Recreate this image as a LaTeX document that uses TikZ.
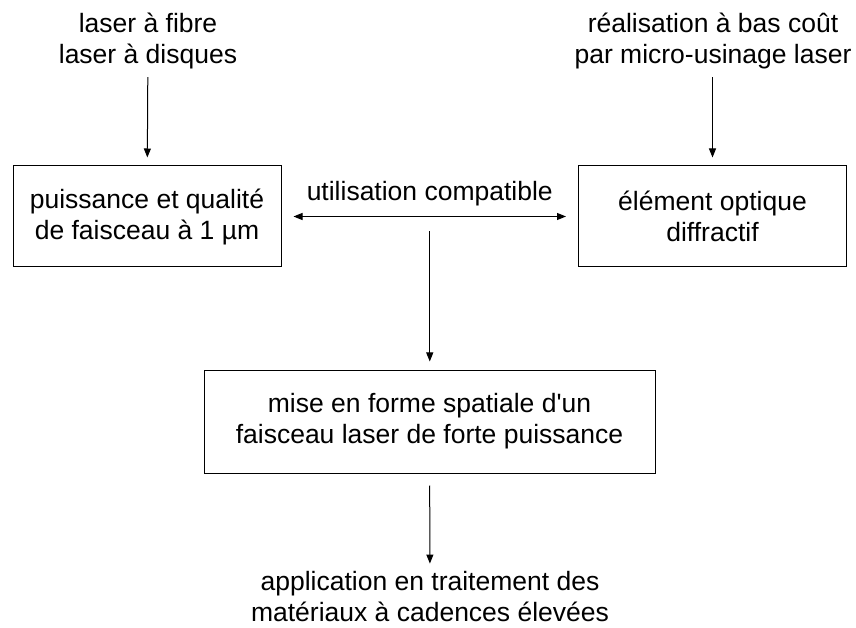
\documentclass[tikz,border=0pt]{standalone}
\usepackage{fontspec}
\setmainfont{Liberation Sans}
\usetikzlibrary{arrows.meta}

\tikzstyle{bloc}   = [draw, line width=1pt, inner sep=0pt, text centered, align=center, minimum height=101pt]
\tikzstyle{taille1}= [bloc, minimum width=268pt]
\tikzstyle{taille2}= [bloc, minimum width=451pt, minimum height=103pt]
\tikzstyle{texte}  = [inner sep=0pt, align=center]
\tikzstyle{fleche} = [line width=1pt, -{Triangle[length=9pt,width=7pt]}]
\tikzstyle{double} = [line width=1pt, {Triangle[length=9pt,width=7pt]}-{Triangle[length=9pt,width=7pt]}]

\begin{document}
\begin{tikzpicture}[x=1pt, y=1pt, font=\fontsize{26.5}{31}\selectfont]
  \useasboundingbox (0,0) rectangle (856,627);
  \draw
    node[texte]   (sources)  at (148, 586)   {laser à fibre\\laser à disques}
    node[texte]   (usinage)  at (713, 586)   {réalisation à bas coût\\par micro-usinage laser}
    node[taille1] (puissance) at (147, 410.5) {puissance et qualité\\de faisceau à 1 µm}
    node[taille1] (doe)      at (712.5, 410.5) {élément optique\\diffractif}
    node[taille2] (miseforme) at (429.5, 205.5) {mise en forme spatiale d\textquotesingle un\\faisceau laser de forte puissance}
    node[texte]   (application) at (430, 30) {application en traitement des\\matériaux à cadences élevées};

  % fleches
  \draw[fleche, shorten <=8pt, shorten >=8pt] (sources) -- (puissance);
  \draw[fleche, shorten <=8pt, shorten >=8pt] (usinage.south -| doe) -- (doe);
  \draw[double, shorten <=12pt, shorten >=12pt]
    (puissance) -- node[above=10pt, inner sep=0pt] (compat) {utilisation compatible} coordinate[pos=0.5] (milieu) (doe);
  \draw[fleche, shorten <=15pt, shorten >=8pt] (milieu) -- (milieu |- miseforme.north);
  \draw[fleche, shorten <=12pt, shorten >=8pt] (miseforme) -- (application);
\end{tikzpicture}
\end{document}
